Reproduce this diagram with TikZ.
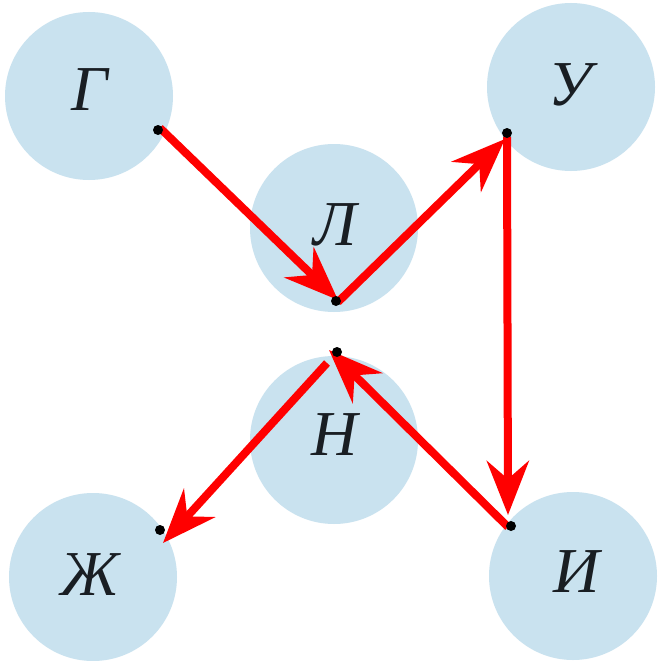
\documentclass[tikz,border=0pt]{standalone}
\usepackage{fontspec}
\setmainfont{Liberation Serif}
\usetikzlibrary{arrows.meta}
\definecolor{disk}{RGB}{201,226,239}
\definecolor{arrowred}{RGB}{255,0,0}
\definecolor{ink}{RGB}{25,30,35}
\begin{document}
\begin{tikzpicture}[x=1pt,y=-1pt,
  disc/.style={circle,fill=disk,minimum size=168pt,inner sep=0pt},
  letter/.style={font=\fontsize{64}{64}\selectfont\itshape,text=ink,inner sep=0pt},
  dotmark/.style={circle,fill=black,minimum size=10pt,inner sep=0pt},
  link/.style={draw=arrowred,line width=8pt,-{Stealth[length=54pt,width=42pt,inset=18pt]}}]
\useasboundingbox[fill=white] (0,0) rectangle (658,661);
% discs
\node[disc] (g)  at (89,96)   {};
\node[disc] (l)  at (334,228) {};
\node[disc] (u)  at (571,87)  {};
\node[disc] (n)  at (334,440) {};
\node[disc] (zh) at (93,577)  {};
\node[disc] (i)  at (573,576) {};
% letters
\node[letter] (gt)  at (90,90)   {Г};
\node[letter] (lt)  at (335,225) {Л};
\node[letter] (ut)  at (570,85)  {У};
\node[letter] (nt)  at (335,435) {Н};
\node[letter] (zht) at (90,575)  {Ж};
\node[letter] (it)  at (577,572) {И};
% arrow ends
\coordinate (a1s) at (160,128);
\coordinate (a1e) at (338,300);
\coordinate (a2s) at (338,302);
\coordinate (a2e) at (505,139);
\coordinate (a3s) at (507,137);
\coordinate (a3e) at (508,515);
\coordinate (a4s) at (508,527);
\coordinate (a4e) at (329,350);
\coordinate (a5s) at (327,363);
\coordinate (a5e) at (163,543);
% arrows
\draw[link] (a1s) -- (a1e);
\draw[link] (a2s) -- (a2e);
\draw[link] (a3s) -- (a3e);
\draw[link] (a4s) -- (a4e);
\draw[link] (a5s) -- (a5e);
% dots
\node[dotmark] (d1) at (158,130) {};
\node[dotmark] (d2) at (336,301) {};
\node[dotmark] (d3) at (507,133) {};
\node[dotmark] (d4) at (337,352) {};
\node[dotmark] (d5) at (160,530) {};
\node[dotmark] (d6) at (511,526) {};
\end{tikzpicture}
\end{document}
